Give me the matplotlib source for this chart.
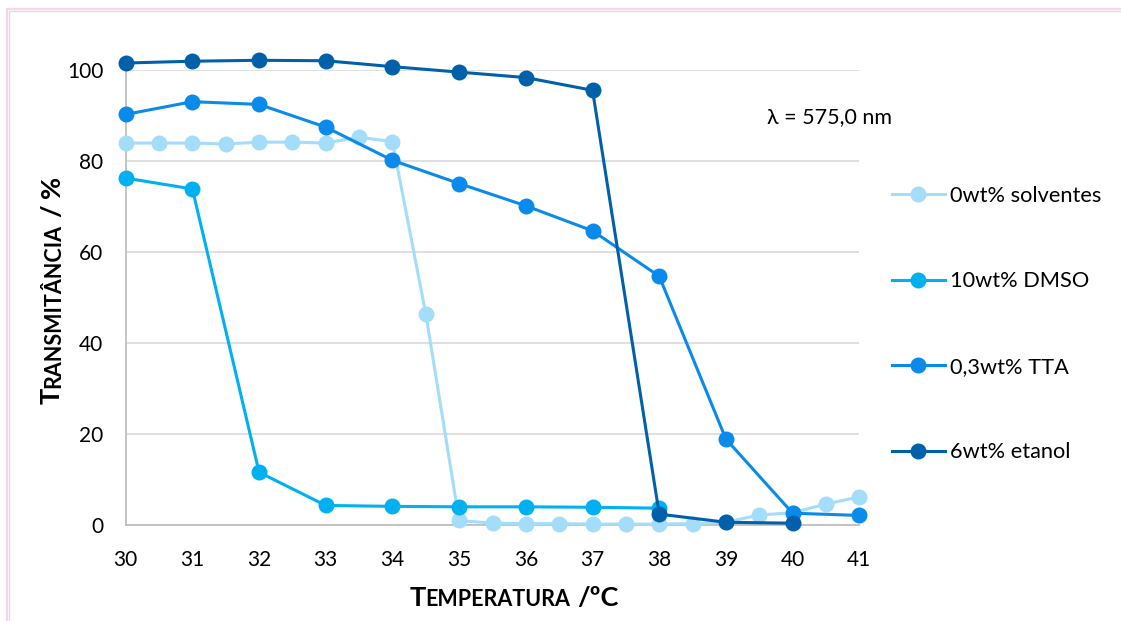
import matplotlib
matplotlib.use("Agg")
import matplotlib.pyplot as plt
from matplotlib.patches import Rectangle
from matplotlib.transforms import IdentityTransform

# ---- data -------------------------------------------------------------
temp_solventes = [30, 30.5, 31, 31.5, 32, 32.5, 33, 33.5, 34, 34.5, 35, 35.5,
                  36, 36.5, 37, 37.5, 38, 38.5, 39, 39.5, 40, 40.5, 41]
trans_solventes = [84.0, 84.0, 84.0, 83.8, 84.2, 84.2, 84.0, 85.3, 84.3, 46.4,
                   1.0, 0.4, 0.3, 0.3, 0.2, 0.2, 0.2, 0.3, 0.6, 2.2, 2.7, 4.6, 6.2]

temp_dmso = [30, 31, 32, 33, 34, 35, 36, 37, 38]
trans_dmso = [76.3, 73.9, 11.6, 4.3, 4.1, 4.0, 4.0, 3.9, 3.7]

temp_tta = [30, 31, 32, 33, 34, 35, 36, 37, 38, 39, 40, 41]
trans_tta = [90.3, 93.1, 92.5, 87.5, 80.2, 75.1, 70.2, 64.7, 54.7, 18.9, 2.6, 2.1]

temp_etanol = [30, 31, 32, 33, 34, 35, 36, 37, 38, 39, 40]
trans_etanol = [101.6, 102.0, 102.2, 102.1, 100.8, 99.6, 98.4, 95.6, 2.4, 0.6, 0.4]

series_labels = ["0wt% solventes", "10wt% DMSO", "0,3wt% TTA", "6wt% etanol"]
series_colors = ["#A3DDF9", "#00B0F0", "#0A8AEA", "#0060AA"]

x_ticks = list(range(30, 42))
y_ticks = [0, 20, 40, 60, 80, 100]

# ---- figure -----------------------------------------------------------
W, H, DPI = 1121, 621, 100
FONT = ["Lato", "DejaVu Sans"]
plt.rcParams["font.family"] = FONT

fig = plt.figure(figsize=(W / DPI, H / DPI), dpi=DPI, facecolor="white")

# chart frame
fig.patches.append(Rectangle((6.5, -10), W + 20, H - 8.5 + 10, transform=IdentityTransform(),
                             fill=False, edgecolor="#F5D5E9", linewidth=1.6))
fig.patches.append(Rectangle((8.5, -10), W + 20, H - 10.5 + 10, transform=IdentityTransform(),
                             fill=False, edgecolor="#DCDCDC", linewidth=1.0))

x0, x1 = 125.7, 859.3
y0, y1 = 525.0, 70.3
ax = fig.add_axes([x0 / W, (H - y0) / H, (x1 - x0) / W, (y0 - y1) / H])
ax.set_xlim(30, 41)
ax.set_ylim(0, 100)
ax.set_xticks(x_ticks)
ax.set_yticks(y_ticks)
ax.tick_params(length=0, labelsize=15, colors="#000000")
ax.tick_params(axis="x", pad=18)
ax.tick_params(axis="y", pad=16)
ax.grid(axis="y", color="#D9D9D9", linewidth=1.2)
ax.set_axisbelow(True)
for side in ("top", "right"):
    ax.spines[side].set_visible(False)
for side in ("left", "bottom"):
    ax.spines[side].set_color("#BFBFBF")
    ax.spines[side].set_linewidth(1.3)

xs = [temp_solventes, temp_dmso, temp_tta, temp_etanol]
ys = [trans_solventes, trans_dmso, trans_tta, trans_etanol]
for x, y, lab, col in zip(xs, ys, series_labels, series_colors):
    ax.plot(x, y, color=col, linewidth=2.2, marker="o", markersize=11.5,
            markerfacecolor=col, markeredgecolor=col, markeredgewidth=0,
            label=lab, clip_on=False, zorder=3)

leg = fig.legend(loc="upper left", bbox_to_anchor=(892 / W, (H - 186) / H),
                 frameon=False, fontsize=15.7, handlelength=2.43, handletextpad=0.22,
                 labelspacing=3.0, borderpad=0, borderaxespad=0, numpoints=1)

fig.text(767 / W, (H - 117) / H, "λ = 575,0 nm", fontsize=15.5, va="center", ha="left",
         family=FONT)

# ---- small-caps axis titles ---------------------------------------------
renderer = fig.canvas.get_renderer()


def piece_widths(pieces):
    out = []
    for s, size in pieces:
        if s is None:
            out.append(size)
            continue
        t = fig.text(0, 0, s, fontsize=size, fontweight="bold", family=FONT)
        out.append(t.get_window_extent(renderer).width)
        t.remove()
    return out


def draw_title(pieces, cx, base, vertical=False):
    widths = piece_widths(pieces)
    total = sum(widths)
    pos = -total / 2.0
    for (s, size), w in zip(pieces, widths):
        if s is not None:
            if vertical:
                px, py = base, cx + pos
                rot = 90
            else:
                px, py = cx + pos, base
                rot = 0
            fig.text(px, py, s, fontsize=size, fontweight="bold", family=FONT,
                     ha="left", va="baseline", rotation=rot, rotation_mode="anchor",
                     transform=IdentityTransform())
        pos += w


BIG, SMALL = 19.5, 15.5
draw_title([("T", BIG), ("EMPERATURA", SMALL), (None, 7), ("/ºC", BIG)],
           cx=514, base=H - 606)
draw_title([("T", BIG), ("RANSMITÂNCIA", SMALL), (None, 7), ("/", BIG), (None, 6), ("%", BIG)],
           cx=H - 290, base=60, vertical=True)

fig.savefig("out.png", dpi=DPI, facecolor="white")
